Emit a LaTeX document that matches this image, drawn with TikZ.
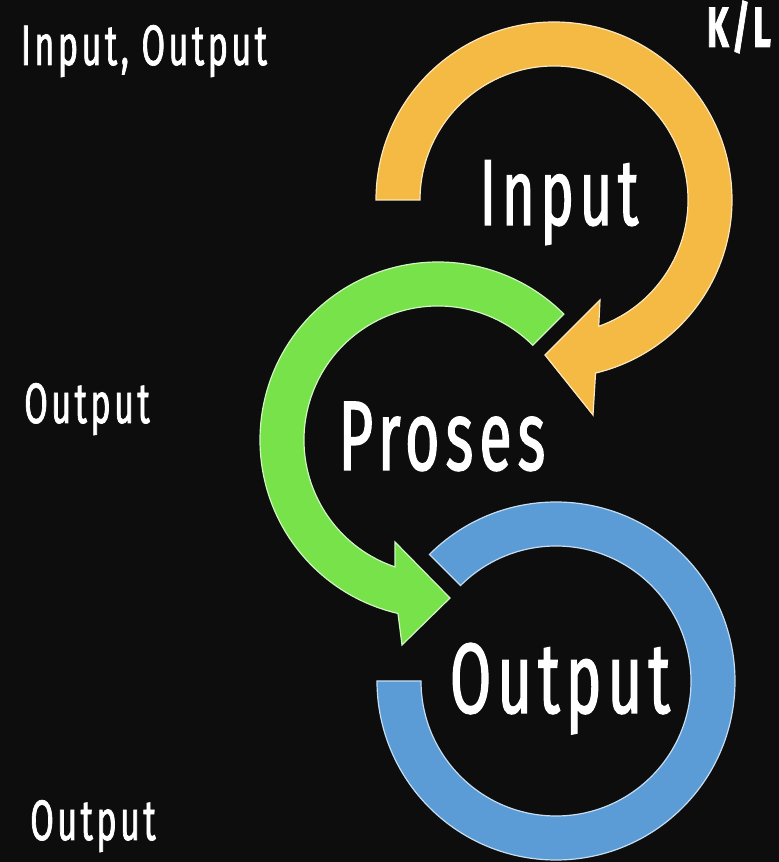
\documentclass[tikz,border=0pt]{standalone}
\usepackage{fontspec}
\setmainfont{Fira Sans}
\newfontfamily\condfont[FakeStretch=0.6,LetterSpace=6,FakeBold=1.2]{Fira Sans}
\usetikzlibrary{calc}

\definecolor{bgc}{RGB}{13,13,13}
\definecolor{ringorange}{RGB}{245,186,68}
\definecolor{ringgreen}{RGB}{119,226,74}
\definecolor{ringblue}{RGB}{91,156,214}

\begin{document}
\begin{tikzpicture}[x=1pt,y=1pt,
  ring/.style={fill=#1, draw=white!65!#1, line width=1.2pt, line join=miter},
  biglabel/.style={text=white, anchor=base, inner sep=0pt,
    font=\condfont\fontsize{#1}{#1}\selectfont},
  sidelabel/.style={text=white, anchor=base, inner sep=0pt,
    font=\condfont\fontsize{57}{57}\selectfont},
]
% canvas
\fill[bgc] (0,0) rectangle (779,862);
\useasboundingbox (0,0) rectangle (779,862);

% ring centres
\coordinate (oc) at (554,662);
\coordinate (gc) at (438,422);
\coordinate (bc) at (556,181);

% orange ring: open tail on the left, head pointing back at lower left
\draw[ring=ringorange] ($(oc)+(180:178)$) arc[start angle=180,end angle=-76.5,radius=178]
  -- (593,447) -- (545,507) -- (600,562) -- ($(oc)+(-70.5:134)$)
  arc[start angle=-70.5,end angle=180,radius=134] -- cycle;

% green ring: counter-clockwise, head pointing right at the bottom
\draw[ring=ringgreen] ($(gc)+(45:178)$) arc[start angle=45,end angle=257,radius=178]
  -- (402,217) -- (450,264) -- (395,320) -- ($(gc)+(251.3:134)$)
  arc[start angle=251.3,end angle=45,radius=134] -- cycle;

% blue ring: plain open ring
\draw[ring=ringblue] ($(bc)+(135:179)$) arc[start angle=135,end angle=-180,radius=179]
  -- ($(bc)+(180:135)$) arc[start angle=-180,end angle=135,radius=135] -- cycle;

% ring titles
\node[biglabel=94] (tInput) at (559,637) {Input};
\node[biglabel=99] (tProses) at (442,392) {Proses};
\node[biglabel=100] (tOutput) at (560,149) {Output};

% side captions
\node[sidelabel] (cIO) at (144,797) {Input, Output};
\node[sidelabel, font=\condfont\bfseries\fontsize{57}{57}\selectfont] (cKL) at (739,815) {K/L};
\node[sidelabel] (cOutA) at (87,439) {Output};
\node[sidelabel] (cOutB) at (93,22) {Output};
\end{tikzpicture}
\end{document}
